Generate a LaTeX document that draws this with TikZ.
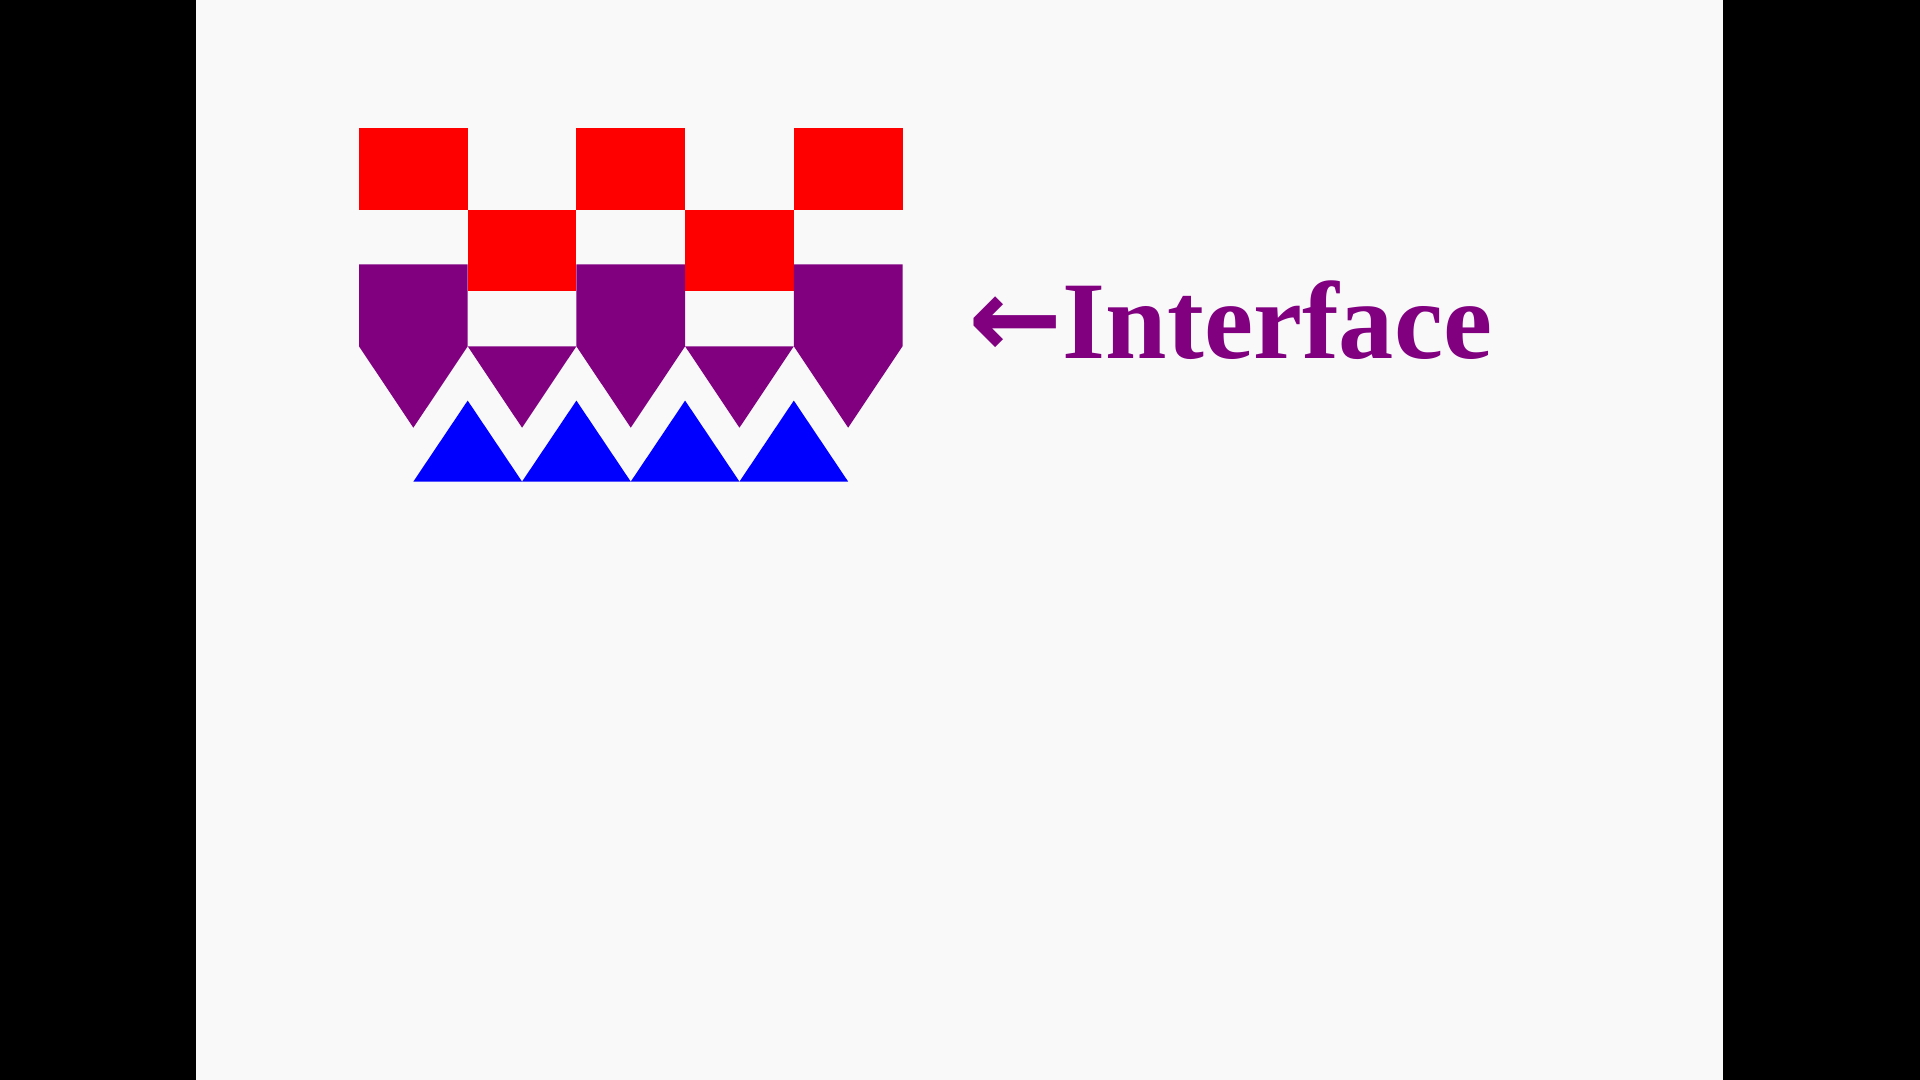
\documentclass[tikz,border=0pt]{standalone}
\usepackage{fontspec}
\setmainfont{Liberation Serif}
\newfontfamily\arrowfont{DejaVu Sans}
\definecolor{slidebg}{HTML}{F9F9F9}
\definecolor{ifpurple}{HTML}{800080}

\begin{document}
\begin{tikzpicture}[x=0.01cm,y=-0.01cm,
redcell/.style={fill=red},
purplecell/.style={fill=ifpurple},
bluecell/.style={fill=blue},
ifacetext/.style={text=ifpurple,font=\bfseries\fontsize{31.4}{32}\selectfont,inner sep=0pt,anchor=base west}]

% slide
\fill[black] (0,0) rectangle (1920,1080);
\fill[slidebg] (196,0) rectangle (1723,1080);

% red checker rows
\foreach \i in {0,2,4}
  \fill[redcell] ({359+108.7*\i},128.3) rectangle +(108.7,81.7);
\foreach \i in {1,3}
  \fill[redcell] ({359+108.7*\i},210) rectangle +(108.7,81.5);

% purple teeth
\foreach \i in {0,2,4}
  \fill[purplecell] ({359+108.7*\i},264.3) -- ++(108.7,0) -- ++(0,82) -- ++(-54.35,81.4) -- ++(-54.35,-81.4) -- cycle;
\foreach \i in {1,3}
  \fill[purplecell] ({359+108.7*\i},346.3) -- ++(108.7,0) -- ++(-54.35,81.4) -- cycle;

% blue teeth
\foreach \i in {1,...,4}
  \fill[bluecell] ({359+108.7*\i},400.6) -- ++(54.35,81) -- ++(-108.7,0) -- cycle;

\node[ifacetext] (IFACE) at (968,359) {{\arrowfont\fontsize{32}{32}\selectfont\raisebox{0.5pt}{←}}Interface};

\end{tikzpicture}
\end{document}
